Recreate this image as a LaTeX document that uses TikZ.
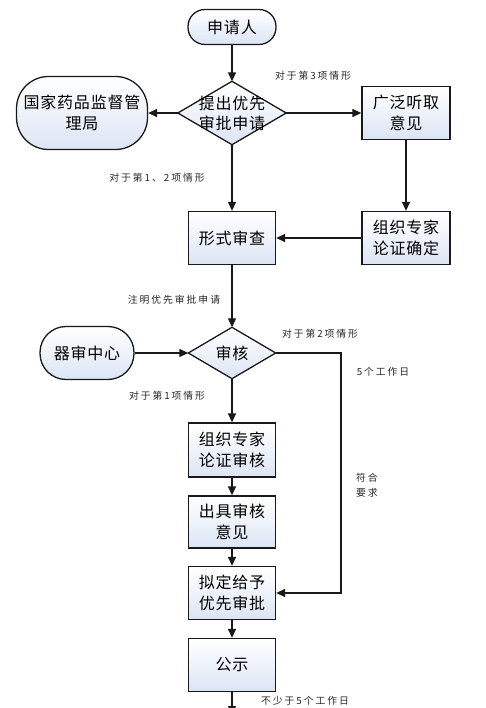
\documentclass[tikz,border=0pt]{standalone}
\usepackage{fontspec}
\setmainfont{Noto Sans CJK SC}[LetterSpace=5]
\newfontfamily\lblfont{Noto Sans CJK SC}[LetterSpace=20]
\usetikzlibrary{arrows.meta}
\pgfdeclarelayer{background}
\pgfsetlayers{background,main}
\definecolor{boxblue}{RGB}{220,229,245}
\definecolor{edgec}{RGB}{25,25,25}
\tikzset{
  base/.style={draw=edgec, line width=1.3pt, top color=white, bottom color=boxblue,
    align=center, font=\fontsize{16}{21}\selectfont, inner sep=0pt},
  box/.style={base, rectangle, minimum width=87pt, minimum height=53pt},
  term/.style={base, rectangle},
  dtext/.style={align=center, font=\fontsize{16}{20}\selectfont, inner sep=0pt},
  dshape/.style={draw=edgec, line width=1.3pt, top color=white, bottom color=boxblue},
  arr/.style={draw=edgec, line width=1.3pt, -{Triangle[length=9pt,width=8pt]}},
  lbl/.style={font=\lblfont\fontsize{9.8}{15}\selectfont, text=black!85, align=center, inner sep=0pt}
}
\begin{document}
\begin{tikzpicture}[x=1pt,y=-1pt]
\useasboundingbox (0,0) rectangle (486,708);

% nodes
\node[term, minimum width=88pt, minimum height=35pt, rounded corners=17pt] (n1) at (232,27) {申请人};
\node[dtext, minimum width=108pt, minimum height=63pt] (d1) at (232,113) {提出优先\\审批申请};
\node[term, minimum width=131pt, minimum height=73pt, rounded corners=32pt] (n2) at (82,113) {国家药品监督管\\理局};
\node[box, minimum width=88pt] (n3) at (406,113) {广泛听取\\意见};
\node[box, minimum width=88pt] (n4) at (406,238) {组织专家\\论证确定};
\node[box] (n5) at (232,238) {形式审查};
\node[dtext, minimum width=87pt, minimum height=51pt] (d2) at (232,353) {审核};
\node[term, minimum width=94pt, minimum height=53pt, rounded corners=26pt] (n6) at (87,353) {器审中心};
\node[box, minimum height=54pt] (n7) at (232,450) {组织专家\\论证审核};
\node[box, minimum height=52pt] (n8) at (232,522) {出具审核\\意见};
\node[box] (n9) at (232,593) {拟定给予\\优先审批};
\node[box] (n10) at (232,665) {公示};

\begin{pgfonlayer}{background}
\path[dshape] (d1.north) -- (d1.east) -- (d1.south) -- (d1.west) -- cycle;
\path[dshape] (d2.north) -- (d2.east) -- (d2.south) -- (d2.west) -- cycle;
\end{pgfonlayer}

\coordinate (c1) at (341,353);
\coordinate (c2) at (341,593);
\coordinate (cend) at (232,715);

% connectors
\draw[arr] (n1.south) -- (d1.north);
\draw[arr] (d1.west) -- (n2.east);
\draw[arr] (d1.east) -- (n3.west);
\draw[arr] (n3.south) -- (n4.north);
\draw[arr] (n4.west) -- (n5.east);
\draw[arr] (d1.south) -- (n5.north);
\draw[arr] (n5.south) -- (d2.north);
\draw[arr] (n6.east) -- (d2.west);
\draw[arr] (d2.south) -- (n7.north);
\draw[arr] (n7.south) -- (n8.north);
\draw[arr] (n8.south) -- (n9.north);
\draw[arr] (n9.south) -- (n10.north);
\draw[arr] (d2.east) -- (c1) -- (c2) -- (n9.east);
\draw[arr] (n10.south) -- (cend);

% labels
\node[lbl] (l1) at (313,76) {对于第3项情形};
\node[lbl] (l2) at (157,178) {对于第1、2项情形};
\node[lbl] (l3) at (174,300) {注明优先审批申请};
\node[lbl] (l4) at (320,334) {对于第2项情形};
\node[lbl] (l5) at (383,372) {5个工作日};
\node[lbl] (l6) at (367,485) {符合\\要求};
\node[lbl] (l7) at (167,396) {对于第1项情形};
\node[lbl] (l8) at (305,701) {不少于5个工作日};
\end{tikzpicture}
\end{document}
